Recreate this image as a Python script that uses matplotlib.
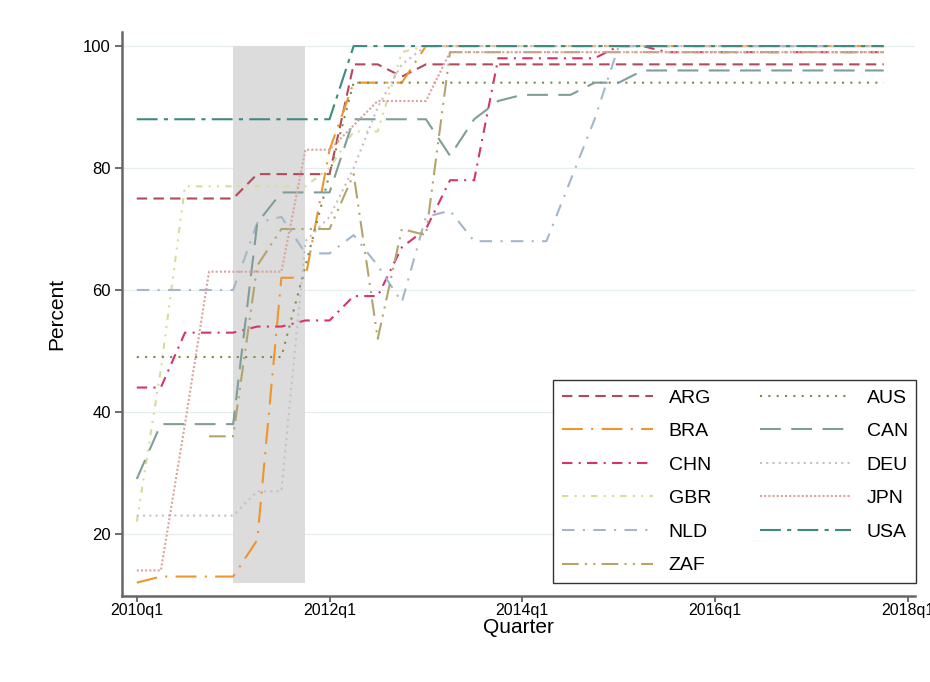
import matplotlib.pyplot as plt
import numpy as np

plt.rcParams['font.family'] = ['Liberation Sans', 'DejaVu Sans']

# quarterly index, 0 = 2010q1 ... 31 = 2017q4
quarters = np.arange(32)
tick_pos = [0, 8, 16, 24, 32]
tick_labels = ["2010q1", "2012q1", "2014q1", "2016q1", "2018q1"]

nan = np.nan
ARG = [75, 75, 75, 75, 75, 79, 79, 79, 79, 97, 97, 95] + [97] * 20
AUS = [49] * 7 + [64, 79] + [94] * 23
BRA = [12, 13, 13, 13, 13, 19, 62, 62, 83, 94, 94, 94] + [100] * 20
CAN = [29, 38, 38, 38, 38, 71, 76, 76, 76, 88, 88, 88, 88, 82, 88, 91, 92, 92, 92, 94, 94] + [96] * 11
CHN = [44, 44, 53, 53, 53, 54, 54, 55, 55, 59, 59, 67, 70, 78, 78, 98, 98, 98, 98, 98, 100, 100] + [99] * 10
DEU = [23, 23, 23, 23, 23, 27, 27, 68, 72, 80, 90, 97] + [100] * 20
GBR = [22, 47, 77, 77, 77, 77, 77, 77, 80, 86, 86, 99] + [100] * 20
JPN = [14, 14, 38, 63, 63, 63, 63, 83, 83, 87, 91, 91, 91] + [99] * 19
NLD = [60, 60, 60, 60, 60, 71, 72, 66, 66, 69, 64, 58, 72, 73, 68, 68, 68, 68, 78, 88, 100] + [100] * 11
USA = [88] * 9 + [100] * 23
ZAF = [nan, nan, nan, 36, 36, 64, 70, 70, 70, 79, 52, 70, 69] + [99] * 19

# shaded period (2011q1 - 2011q4)
shade_start, shade_end = 4, 7
shade_low, shade_high = 12, 100

series = [
    ("ARG", ARG, "#b04a5c", (0, (5, 3))),
    ("BRA", BRA, "#f0952c", (0, (10, 4, 1, 4))),
    ("CHN", CHN, "#d6336c", (0, (5, 3, 1, 3))),
    ("GBR", GBR, "#d8dc98", (0, (3, 3, 1, 3, 1, 3))),
    ("NLD", NLD, "#a3b6cb", (0, (6, 4, 1, 4))),
    ("ZAF", ZAF, "#b3a46b", (0, (8, 3, 1, 3, 1, 3))),
    ("AUS", AUS, "#7d8c4a", (0, (1, 3))),
    ("CAN", CAN, "#7f9e98", (0, (10, 5))),
    ("DEU", DEU, "#cbbccb", (0, (1, 2))),
    ("JPN", JPN, "#d9a3a0", (0, (1, 1))),
    ("USA", USA, "#3e8a7e", (0, (10, 3, 2, 3))),
]

fig = plt.figure(figsize=(9.3, 6.82), dpi=100)
ax = fig.add_axes([0.131, 0.126, 0.853, 0.827])

ax.fill_between([shade_start, shade_end], shade_low, shade_high, color="#dcdcdc", lw=0, zorder=1)

for name, vals, col, ls in series:
    ax.plot(quarters, vals, color=col, linestyle=ls, lw=1.5, label=name, zorder=3)

ax.set_xlim(-0.62, 32.3)
ax.set_ylim(9.8, 102.3)
ax.set_xticks(tick_pos)
ax.set_xticklabels(tick_labels, fontsize=11.5)
ax.set_yticks([20, 40, 60, 80, 100])
ax.tick_params(axis="y", labelsize=12, length=5, width=1.2, color="#555555", pad=3)
ax.tick_params(axis="x", length=4, width=1.2, color="#555555", pad=1)
ax.yaxis.grid(True, color="#e6eded", lw=0.9)
ax.set_axisbelow(True)

for s in ["top", "right"]:
    ax.spines[s].set_visible(False)
for s in ["left", "bottom"]:
    ax.spines[s].set_color("#666666")
    ax.spines[s].set_linewidth(1.8)

ax.set_xlabel("Quarter", fontsize=15, labelpad=0)
ax.set_ylabel("Percent", fontsize=15, labelpad=12)

leg = ax.legend(ncol=2, loc="lower left", bbox_to_anchor=(0.5435, 0.023), borderaxespad=0,
                fontsize=14, handlelength=4.7, labelspacing=0.82, columnspacing=2.5,
                borderpad=0.45, fancybox=False, edgecolor="#333333", framealpha=1)
leg.get_frame().set_linewidth(1.0)

plt.savefig("out.png", dpi=100)
